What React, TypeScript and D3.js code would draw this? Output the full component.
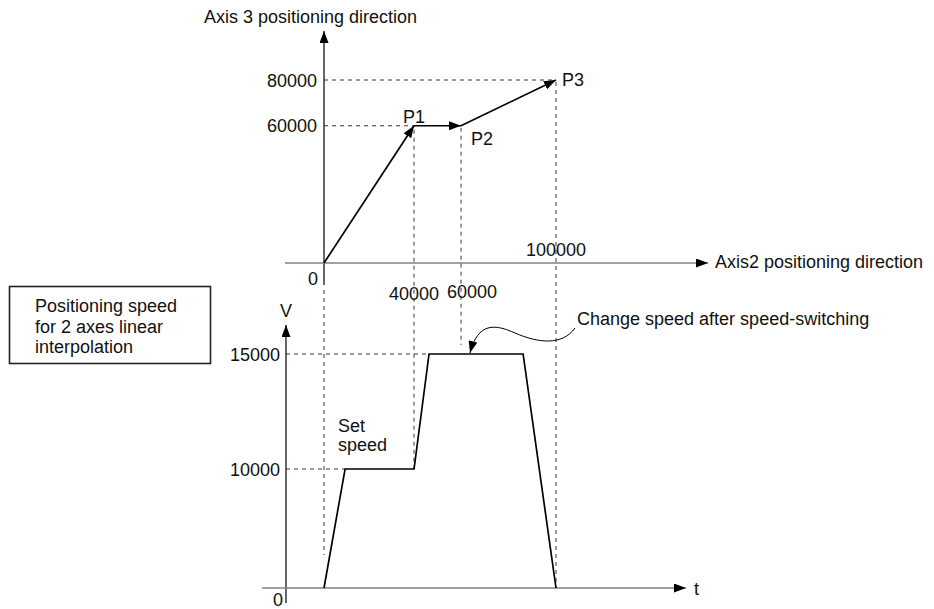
import React from "react";
import * as d3 from "d3";

// ---- Data ----
const axis2Positions = [0, 40000, 60000, 100000];
const axis3Positions = [0, 60000, 60000, 80000];
const pointLabels = ["", "P1", "P2", "P3"];
const axis3Ticks = [60000, 80000];
const axis2TickLabels = ["40000", "60000", "100000"];

const speedTimes = [0, 100, 427, 498, 944, 1100];
const speedValues = [0, 10000, 10000, 15000, 15000, 0];
const speedTicks = [10000, 15000];

const W = 934;
const H = 609;
const FONT = "'Liberation Sans', Arial, Helvetica, sans-serif";

export default function App() {
  // top chart scales (diagram is not to scale -> piecewise linear)
  const xTop = d3.scaleLinear().domain([0, 40000, 60000, 100000]).range([324, 414, 461, 556]);
  const yTop = d3.scaleLinear().domain([0, 80000]).range([263, 80]);
  // bottom chart scales
  const tScale = d3.scaleLinear().domain([0, 1100]).range([324, 556]);
  const vScale = d3.scaleLinear().domain([0, 10000, 15000]).range([588, 469, 354]);

  const pts = axis2Positions.map((x, i) => [xTop(x), yTop(axis3Positions[i])] as [number, number]);
  const speedPts = speedTimes.map((t, i) => [tScale(t), vScale(speedValues[i])] as [number, number]);
  const line = d3.line();

  const dash = { stroke: "#222", strokeWidth: 0.9, strokeDasharray: "4,4", fill: "none" } as const;
  const txt = { fontFamily: FONT, fontSize: 18, fill: "#111" } as const;

  const x0 = xTop(0);
  const vx = 286;
  const p1 = pts[1], p2 = pts[2], p3 = pts[3];
  const sp = speedPts;

  return (
    <svg width={W} height={H} style={{ position: "absolute", left: 0, top: 0 }}>
      <defs>
        <marker id="arr" viewBox="0 0 12 9" refX="12" refY="4.5" markerWidth="12" markerHeight="9" markerUnits="userSpaceOnUse" orient="auto">
          <path d="M0,0 L12,4.5 L0,9 Z" fill="#000" />
        </marker>
      </defs>
      <rect width={W} height={H} fill="#fff" />

      {/* ---------- Top chart ---------- */}
      <text x={204} y={23} {...txt}>Axis 3 positioning direction</text>
      <line x1={x0} y1={285} x2={x0} y2={31} stroke="#000" strokeWidth={1.2} markerEnd="url(#arr)" />
      <line x1={285} y1={yTop(0)} x2={708} y2={yTop(0)} stroke="#808080" strokeWidth={1.5} markerEnd="url(#arr)" />
      <text x={715} y={268} {...txt}>Axis2 positioning direction</text>

      {axis3Ticks.map((v) => {
        const idx = axis3Positions.indexOf(v);
        return <line key={"h" + v} x1={x0} y1={yTop(v)} x2={pts[idx][0]} y2={yTop(v)} {...dash} />;
      })}
      <line x1={p1[0]} y1={p1[1] + 4} x2={p1[0]} y2={sp[2][1]} {...dash} />
      <line x1={p2[0]} y1={p2[1] + 2} x2={p2[0]} y2={345} {...dash} />
      <line x1={p3[0]} y1={p3[1] + 2} x2={p3[0]} y2={sp[5][1]} {...dash} />
      <line x1={x0} y1={290} x2={x0} y2={555} {...dash} />

      {axis3Ticks.map((v) => (
        <text key={"yt" + v} x={317} y={yTop(v) + 6.5} textAnchor="end" {...txt}>{v}</text>
      ))}
      <text x={308} y={285} {...txt}>0</text>
      <text x={389} y={300} {...txt}>{axis2TickLabels[0]}</text>
      <text x={447} y={298} {...txt}>{axis2TickLabels[1]}</text>
      <text x={526} y={256} {...txt}>{axis2TickLabels[2]}</text>

      {pts.slice(1).map((p, i) => (
        <path key={"seg" + i} d={line([pts[i], p]) || ""} stroke="#000" strokeWidth={1.7} fill="none" markerEnd="url(#arr)" />
      ))}
      <text x={403} y={123} {...txt}>{pointLabels[1]}</text>
      <text x={471} y={145} {...txt}>{pointLabels[2]}</text>
      <text x={562} y={86} {...txt}>{pointLabels[3]}</text>

      {/* ---------- Box ---------- */}
      <rect x={9.5} y={286.5} width={201} height={77} fill="none" stroke="#222" strokeWidth={1.6} />
      <text x={35} y={312} {...txt}>Positioning speed</text>
      <text x={35} y={333} {...txt}>for 2 axes linear</text>
      <text x={35} y={353} {...txt}>interpolation</text>

      {/* ---------- Bottom chart ---------- */}
      <line x1={vx} y1={603} x2={vx} y2={325} stroke="#000" strokeWidth={1.2} markerEnd="url(#arr)" />
      <text x={280} y={317} {...txt}>V</text>
      <line x1={262} y1={vScale(0)} x2={686} y2={vScale(0)} stroke="#808080" strokeWidth={1.5} markerEnd="url(#arr)" />
      <text x={694} y={595} {...txt}>t</text>
      <text x={273} y={606} {...txt}>0</text>

      {speedTicks.map((v) => {
        const idx = speedValues.indexOf(v);
        return (
          <g key={"vt" + v}>
            <line x1={vx} y1={vScale(v)} x2={speedPts[idx][0]} y2={vScale(v)} {...dash} />
            <text x={280} y={vScale(v) + 6.5} textAnchor="end" {...txt}>{v}</text>
          </g>
        );
      })}

      <path d={line(speedPts) || ""} stroke="#000" strokeWidth={1.7} fill="none" />

      <text x={338} y={432} {...txt}>Set</text>
      <text x={338} y={451} {...txt}>speed</text>

      <text x={577} y={325} {...txt}>Change speed after speed-switching</text>
      <path d="M575,328 C562,346 538,343 515,333 C495,324 478,322 470,353" stroke="#000" strokeWidth={1} fill="none" markerEnd="url(#arr)" />
    </svg>
  );
}
